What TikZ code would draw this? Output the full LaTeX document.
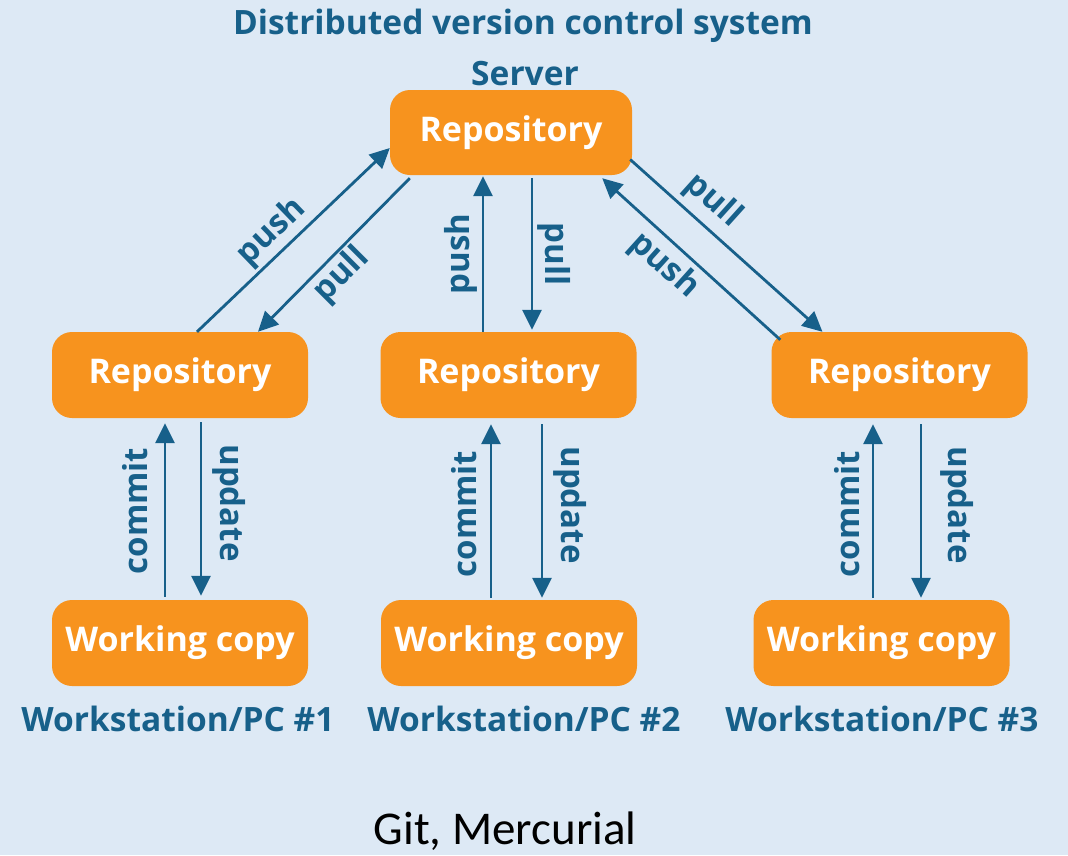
\documentclass[tikz,border=0pt]{standalone}
\usepackage{fontspec}
\setmainfont{Open Sans}
\newfontfamily\capfont{Carlito}
\usetikzlibrary{arrows.meta,calc}

\definecolor{bgblue}{HTML}{DDE9F5}
\definecolor{boxorange}{HTML}{F7931E}
\definecolor{inkblue}{HTML}{17608A}

\tikzset{
  repo/.style={draw=none, fill=boxorange, rounded corners=20pt,
    minimum width=256pt, minimum height=86pt, inner sep=0pt,
    text=white, font=\fontsize{34}{40}\selectfont\bfseries},
  heading/.style={text=inkblue, inner sep=0pt, font=\fontsize{33.5}{40}\selectfont\bfseries},
  lbl/.style={text=inkblue, inner sep=0pt, font=\fontsize{33}{40}\selectfont\bfseries},
  flow/.style={draw=inkblue, line width=2.8pt,
    -{Triangle[length=20pt,width=19pt]}},
}

\begin{document}
\begin{tikzpicture}[x=1pt,y=-1pt]
  \fill[bgblue] (0,0) rectangle (1068,855);
  \useasboundingbox (0,0) rectangle (1068,855);

  % headings
  \node[heading] (title) at (523,26) {Distributed version control system};
  \node[heading] (server) at (525,74) {Server};

  % server repository
  \node[repo, minimum width=242pt, minimum height=85pt] (top) at (511,132.5) {Repository};

  % workstation repositories
  \node[repo] (repL) at (180,375) {Repository};
  \node[repo] (repM) at (508.5,375) {Repository};
  \node[repo] (repR) at (899.5,375) {Repository};

  % working copies
  \node[repo] (wcL) at (180,643) {Working copy};
  \node[repo] (wcM) at (509,643) {Working copy};
  \node[repo] (wcR) at (881.5,643) {Working copy};

  % workstation captions
  \node[heading] (capL) at (178,719) {Workstation/PC \#1};
  \node[heading] (capM) at (524,719) {Workstation/PC \#2};
  \node[heading] (capR) at (882,719) {Workstation/PC \#3};

  % footer
  \node[inner sep=0pt, text=black, font=\capfont\fontsize{47}{54}\selectfont] (foot) at (505,831) {Git, Mercurial};

  % push / pull between server and workstations
  \draw[flow] ([xshift=17]repL.north) -- ([yshift=-15.5]top.west);
  \draw[flow] ([xshift=20,yshift=-3]top.south west) -- ([xshift=78]repL.north);
  \draw[flow] ([xshift=-25.5]repM.north) -- ([xshift=-28,yshift=-1]top.south);
  \draw[flow] ([xshift=21,yshift=-3]top.south) -- ([xshift=23.5,yshift=2]repM.north);
  \draw[flow] ([xshift=-2,yshift=-27]top.east) -- ([xshift=-77]repR.north);
  \draw[flow] ([xshift=9,yshift=-8]repR.north west) -- ([xshift=-30,yshift=-3]top.south east);

  \node[lbl, rotate=44] (pushL) at (272,232) {push};
  \node[lbl, rotate=45] (pullL) at (342,275) {pull};
  \node[lbl, rotate=90] (pushM) at (461,254) {push};
  \node[lbl, rotate=-90] (pullM) at (554,254) {pull};
  \node[lbl, rotate=-42] (pullR) at (713,201) {pull};
  \node[lbl, rotate=-42] (pushR) at (664,266) {push};

  % commit / update inside each workstation
  \draw[flow] ([xshift=-15,yshift=3]wcL.north) -- ([xshift=-15,yshift=-5]repL.south);
  \draw[flow] ([xshift=21,yshift=-4]repL.south) -- ([xshift=21,yshift=4]wcL.north);
  \draw[flow] ([xshift=-18,yshift=2]wcM.north) -- ([xshift=-17.5,yshift=-6]repM.south);
  \draw[flow] ([xshift=33.5,yshift=-6]repM.south) -- ([xshift=33,yshift=2]wcM.north);
  \draw[flow] ([xshift=-8.5,yshift=2]wcR.north) -- ([xshift=-26.5,yshift=-6]repR.south);
  \draw[flow] ([xshift=21.5,yshift=-6]repR.south) -- ([xshift=39.5,yshift=2]wcR.north);

  \node[lbl, rotate=90] (comL) at (135,511) {commit};
  \node[lbl, rotate=-90] (updL) at (229,503) {update};
  \node[lbl, rotate=90] (comM) at (464,514) {commit};
  \node[lbl, rotate=-90] (updM) at (570,505) {update};
  \node[lbl, rotate=90] (comR) at (847,514) {commit};
  \node[lbl, rotate=-90] (updR) at (957,505) {update};
\end{tikzpicture}
\end{document}
